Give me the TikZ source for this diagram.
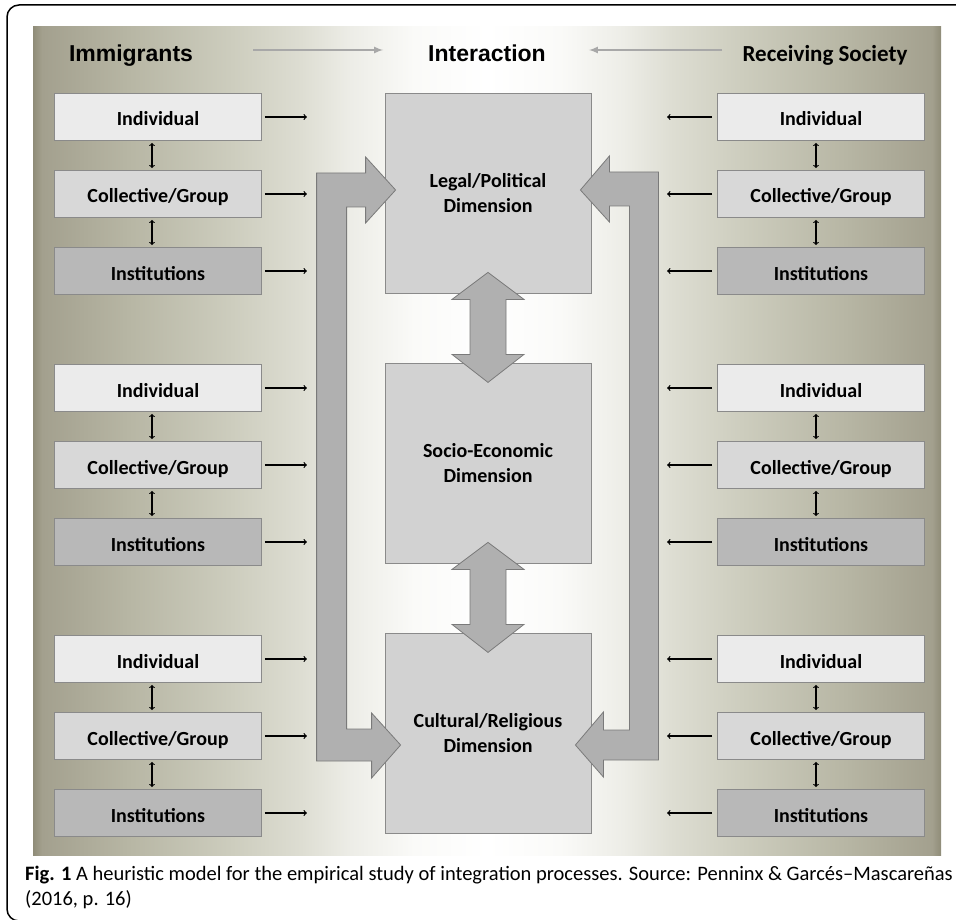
\documentclass[tikz,border=0pt]{standalone}
\usepackage{fontspec}
\setmainfont{Carlito}
\newfontfamily\headfont{Liberation Sans}
\newfontfamily\capfont{Carlito}
\usepackage{xcolor}
\usepackage{tikz}
\usetikzlibrary{shapes,arrows,positioning,calc}

\definecolor{olive0}{HTML}{8F8C78}
\definecolor{olive1}{HTML}{A3A08E}
\definecolor{olive2}{HTML}{B8B7A5}
\definecolor{olive3}{HTML}{CDCDBE}
\definecolor{olive4}{HTML}{DDDDD2}
\definecolor{olive5}{HTML}{EDEDE7}
\definecolor{olive6}{HTML}{FAFAF8}
\definecolor{indfill}{HTML}{EBEBEB}
\definecolor{colfill}{HTML}{D8D8D8}
\definecolor{instfill}{HTML}{B8B8B8}
\definecolor{dimfill}{HTML}{D2D2D2}
\definecolor{boxedge}{HTML}{8A8A8A}
\definecolor{arrowfill}{HTML}{B0B0B0}
\definecolor{arrowedge}{HTML}{7A7A7A}
\definecolor{flowgrey}{HTML}{A8A8A8}

\pgfdeclarehorizontalshading{panelshade}{100bp}{color(0bp)=(olive0); color(25bp)=(olive0); color(25.5bp)=(olive1); color(30.5bp)=(olive2); color(36bp)=(olive3); color(39.75bp)=(olive4); color(42.5bp)=(olive5); color(46bp)=(olive6); color(50bp)=(white); color(54bp)=(olive6); color(57.5bp)=(olive5); color(60.25bp)=(olive4); color(64bp)=(olive3); color(69.5bp)=(olive2); color(74.5bp)=(olive1); color(75bp)=(olive0); color(100bp)=(olive0)}

\tikzstyle{block} = [rectangle, draw=boxedge, line width=0.8pt, minimum width=207pt, minimum height=47pt, inner sep=0pt, text height=18pt, text depth=0pt, font=\bfseries\fontsize{20}{24}\selectfont]
\tikzstyle{indbox} = [block, fill=indfill]
\tikzstyle{grpbox} = [block, fill=colfill]
\tikzstyle{instbox} = [block, fill=instfill]
\tikzstyle{dimbox} = [rectangle, draw=boxedge, line width=0.8pt, fill=dimfill, minimum width=206pt, minimum height=200pt, align=center, font=\bfseries\fontsize{20}{25}\selectfont]
\tikzstyle{header} = [anchor=base, inner sep=0pt, font=\bfseries\fontsize{23}{28}\selectfont]
\tikzstyle{line} = [draw, line width=1.2pt, ->]
\tikzstyle{link} = [draw, line width=1.1pt, <->, shorten >=2pt, shorten <=2pt]
\tikzstyle{flow} = [draw=flowgrey, line width=2pt, -latex]
\tikzstyle{bigarrow} = [draw=arrowedge, fill=arrowfill, line width=0.8pt]

\begin{document}
\begin{tikzpicture}[x=1pt, y=-1pt, node distance=77pt]
    \clip (0,0) rectangle (956,920);
    \draw[line width=1.5pt, rounded corners=12pt] (7,5) rectangle (990,921);
    \shade[shading=panelshade] (33,27) rectangle (941,855);

    % headers
    \node[header, font=\headfont\bfseries\fontsize{23}{28}\selectfont] (imm) at (131,62) {Immigrants};
    \node[header, font=\headfont\bfseries\fontsize{23}{28}\selectfont] (inter) at (487,62) {Interaction};
    \node[header] (rec) at (825,62) {Receiving Society};

    \path[flow] ([xshift=60pt,yshift=12pt]imm.base east) -- ([xshift=-45pt,yshift=12pt]inter.base west);
    \path[flow] ([xshift=-20pt,yshift=12pt]rec.base west) -- ([xshift=43pt,yshift=12pt]inter.base east);

    % dimensions
    \node[dimbox] (legal) at (488,193) {Legal/Political\\Dimension};
    \node[dimbox, below of=legal, node distance=270pt] (socio) {Socio-Economic\\Dimension};
    \node[dimbox, below of=socio, node distance=270.5pt] (cult) {Cultural/Religious\\Dimension};

    % immigrants
    \node[indbox] (ind1) at (158,117) {Individual};
    \node[grpbox, below of=ind1] (col1) {Collective/Group};
    \node[instbox, below of=col1] (inst1) {Institutions};
    \node[indbox, below of=inst1, node distance=117pt] (ind2) {Individual};
    \node[grpbox, below of=ind2] (col2) {Collective/Group};
    \node[instbox, below of=col2] (inst2) {Institutions};
    \node[indbox, below of=inst2, node distance=117pt] (ind3) {Individual};
    \node[grpbox, below of=ind3] (col3) {Collective/Group};
    \node[instbox, below of=col3] (inst3) {Institutions};

    % receiving society
    \node[indbox] (rind1) at (821,117) {Individual};
    \node[grpbox, below of=rind1] (rcol1) {Collective/Group};
    \node[instbox, below of=rcol1] (rinst1) {Institutions};
    \node[indbox, below of=rinst1, node distance=117pt] (rind2) {Individual};
    \node[grpbox, below of=rind2] (rcol2) {Collective/Group};
    \node[instbox, below of=rcol2] (rinst2) {Institutions};
    \node[indbox, below of=rinst2, node distance=117pt] (rind3) {Individual};
    \node[grpbox, below of=rind3] (rcol3) {Collective/Group};
    \node[instbox, below of=rcol3] (rinst3) {Institutions};

    \foreach \n in {1,2,3} {
        \path[link] ([xshift=-6pt]ind\n.south) -- ([xshift=-6pt]col\n.north);
        \path[link] ([xshift=-6pt]col\n.south) -- ([xshift=-6pt]inst\n.north);
        \path[link] ([xshift=-5pt]rind\n.south) -- ([xshift=-5pt]rcol\n.north);
        \path[link] ([xshift=-5pt]rcol\n.south) -- ([xshift=-5pt]rinst\n.north);
        \path[line] ([xshift=3pt]ind\n.east) -- ++(42,0);
        \path[line] ([xshift=3pt]col\n.east) -- ++(42,0);
        \path[line] ([xshift=3pt]inst\n.east) -- ++(42,0);
        \path[line] ([xshift=-5pt]rind\n.west) -- ++(-45,0);
        \path[line] ([xshift=-5pt]rcol\n.west) -- ++(-45,0);
        \path[line] ([xshift=-5pt]rinst\n.west) -- ++(-45,0);
    }

    % feedback arrows
    \draw[bigarrow] ($(legal.west)+(11,-3)$) -- ++(-30,-33) -- ++(0,16) -- ++(-49,0) -- ++(0,588) -- ++(55,0) -- ++(0,17) -- ++(29,-33) -- ++(-29,-32) -- ++(0,16) -- ++(-25,0) -- ++(0,-522) -- ++(19,0) -- ++(0,16) -- cycle;
    \draw[bigarrow] ($(legal.east)+(-11,-3)$) -- ++(29,-34) -- ++(0,16) -- ++(49,0) -- ++(0,588) -- ++(-55,0) -- ++(0,17) -- ++(-28,-32) -- ++(28,-33) -- ++(0,18) -- ++(26,0) -- ++(0,-524) -- ++(-20,0) -- ++(0,16) -- cycle;
    \foreach \a in {legal,socio}
        \draw[bigarrow] ($(\a.south)+(0,-21)$) -- ++(36,27) -- ++(-18,0) -- ++(0,55) -- ++(18,0) -- ++(-36,28) -- ++(-36,-28) -- ++(18,0) -- ++(0,-55) -- ++(-18,0) -- cycle;

    % caption
    \node[anchor=base west, align=left, inner sep=0pt, font=\capfont\fontsize{20.5}{25}\selectfont] (caption) at (25,905) {\textbf{Fig. 1} A heuristic model for the empirical study of integration processes. Source: Penninx \& Garcés–Mascareñas\\(2016, p. 16)};
\end{tikzpicture}
\end{document}
